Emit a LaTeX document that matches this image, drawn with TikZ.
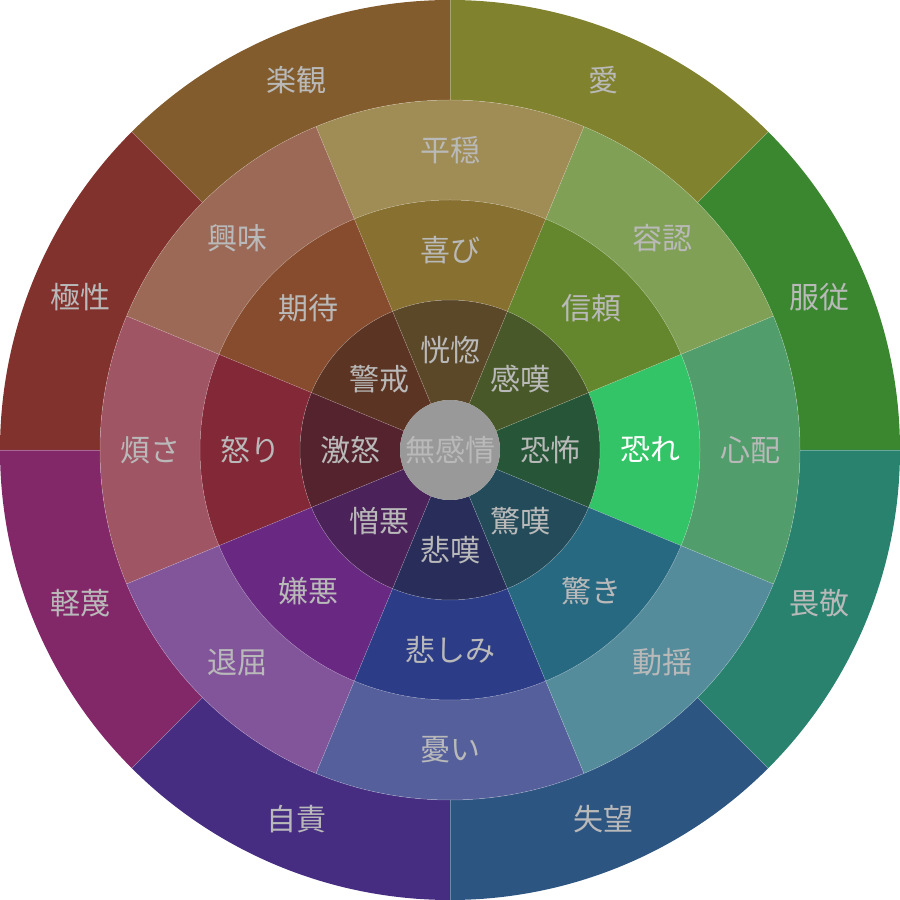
\documentclass[tikz,border=0pt]{standalone}
\usepackage{fontspec}
\newfontfamily\jp{Noto Sans CJK JP}
% outer ring (dyads)
\definecolor{oA}{RGB}{58,135,48}
\definecolor{oB}{RGB}{128,130,45}
\definecolor{oC}{RGB}{130,92,45}
\definecolor{oD}{RGB}{130,50,45}
\definecolor{oE}{RGB}{130,40,105}
\definecolor{oF}{RGB}{70,45,130}
\definecolor{oG}{RGB}{45,85,130}
\definecolor{oH}{RGB}{40,130,110}
% ring 3 (light)
\definecolor{tA}{RGB}{82,157,108}
\definecolor{tB}{RGB}{128,160,85}
\definecolor{tC}{RGB}{160,140,85}
\definecolor{tD}{RGB}{155,105,85}
\definecolor{tE}{RGB}{160,85,100}
\definecolor{tF}{RGB}{130,85,155}
\definecolor{tG}{RGB}{85,95,155}
\definecolor{tH}{RGB}{85,140,155}
% middle ring
\definecolor{mA}{RGB}{50,196,102}
\definecolor{mB}{RGB}{100,135,45}
\definecolor{mC}{RGB}{135,112,48}
\definecolor{mD}{RGB}{135,75,45}
\definecolor{mE}{RGB}{130,40,55}
\definecolor{mF}{RGB}{105,40,130}
\definecolor{mG}{RGB}{45,60,135}
\definecolor{mH}{RGB}{40,105,130}
% inner ring
\definecolor{iA}{RGB}{38,85,55}
\definecolor{iB}{RGB}{72,88,40}
\definecolor{iC}{RGB}{90,72,40}
\definecolor{iD}{RGB}{92,52,35}
\definecolor{iE}{RGB}{85,35,45}
\definecolor{iF}{RGB}{75,35,90}
\definecolor{iG}{RGB}{40,45,90}
\definecolor{iH}{RGB}{35,75,90}
\definecolor{core}{RGB}{153,153,153}
\definecolor{txt}{RGB}{185,185,185}
\begin{document}
\begin{tikzpicture}[x=1pt,y=1pt,
  lbl/.style={font=\jp\fontsize{30}{30}\selectfont, text=txt, inner sep=0pt},
  sep/.style={draw=white, draw opacity=0.3, line width=0.5pt}]
\useasboundingbox (0,0) rectangle (900,900);
\begin{scope}[shift={(450,450)}]
% outer ring sectors: start angle 0,45,...
\foreach \a/\c in {0/oA,45/oB,90/oC,135/oD,180/oE,225/oF,270/oG,315/oH}{
  \pgfmathsetmacro{\b}{\a+45}
  \fill[\c] (\a:350) -- (\a:450) arc[start angle=\a,end angle=\b,radius=450]
     -- (\b:350) arc[start angle=\b,end angle=\a,radius=350] -- cycle;
}
% rings centred on 0,45,...
\foreach \a/\ci/\cm/\ct in {0/iA/mA/tA,45/iB/mB/tB,90/iC/mC/tC,135/iD/mD/tD,180/iE/mE/tE,225/iF/mF/tF,270/iG/mG/tG,315/iH/mH/tH}{
  \pgfmathsetmacro{\s}{\a-22.5}
  \pgfmathsetmacro{\e}{\a+22.5}
  \fill[\ct] (\s:250) -- (\s:350) arc[start angle=\s,end angle=\e,radius=350]
     -- (\e:250) arc[start angle=\e,end angle=\s,radius=250] -- cycle;
  \fill[\cm] (\s:150) -- (\s:250) arc[start angle=\s,end angle=\e,radius=250]
     -- (\e:150) arc[start angle=\e,end angle=\s,radius=150] -- cycle;
  \fill[\ci] (\s:50) -- (\s:150) arc[start angle=\s,end angle=\e,radius=150]
     -- (\e:50) arc[start angle=\e,end angle=\s,radius=50] -- cycle;
}
% separators
\foreach \r in {150,250,350}{ \draw[sep] (0,0) circle[radius=\r]; }
\foreach \a in {22.5,67.5,112.5,157.5,202.5,247.5,292.5,337.5}{ \draw[sep] (\a:50) -- (\a:350); }
\foreach \a in {0,45,90,135,180,225,270,315}{ \draw[sep] (\a:350) -- (\a:450); }
\fill[core] (0,0) circle[radius=50];
% labels
\node[lbl] (c0) at (0,0) {無感情};
\node[lbl] (i1) at (0:100) {恐怖};
\node[lbl] (i2) at (45:100) {感嘆};
\node[lbl] (i3) at (90:100) {恍惚};
\node[lbl] (i4) at (135:100) {警戒};
\node[lbl] (i5) at (180:100) {激怒};
\node[lbl] (i6) at (225:100) {憎悪};
\node[lbl] (i7) at (270:100) {悲嘆};
\node[lbl] (i8) at (315:100) {驚嘆};
\node[lbl, text=white] (m1) at (0:200) {恐れ};
\node[lbl] (m2) at (45:200) {信頼};
\node[lbl] (m3) at (90:200) {喜び};
\node[lbl] (m4) at (135:200) {期待};
\node[lbl] (m5) at (180:200) {怒り};
\node[lbl] (m6) at (225:200) {嫌悪};
\node[lbl] (m7) at (270:200) {悲しみ};
\node[lbl] (m8) at (315:200) {驚き};
\node[lbl] (t1) at (0:300) {心配};
\node[lbl] (t2) at (45:300) {容認};
\node[lbl] (t3) at (90:300) {平穏};
\node[lbl] (t4) at (135:300) {興味};
\node[lbl] (t5) at (180:300) {煩さ};
\node[lbl] (t6) at (225:300) {退屈};
\node[lbl] (t7) at (270:300) {憂い};
\node[lbl] (t8) at (315:300) {動揺};
\node[lbl] (o1) at (22.5:400) {服従};
\node[lbl] (o2) at (67.5:400) {愛};
\node[lbl] (o3) at (112.5:400) {楽観};
\node[lbl] (o4) at (157.5:400) {極性};
\node[lbl] (o5) at (202.5:400) {軽蔑};
\node[lbl] (o6) at (247.5:400) {自責};
\node[lbl] (o7) at (292.5:400) {失望};
\node[lbl] (o8) at (337.5:400) {畏敬};
\end{scope}
\end{tikzpicture}
\end{document}
